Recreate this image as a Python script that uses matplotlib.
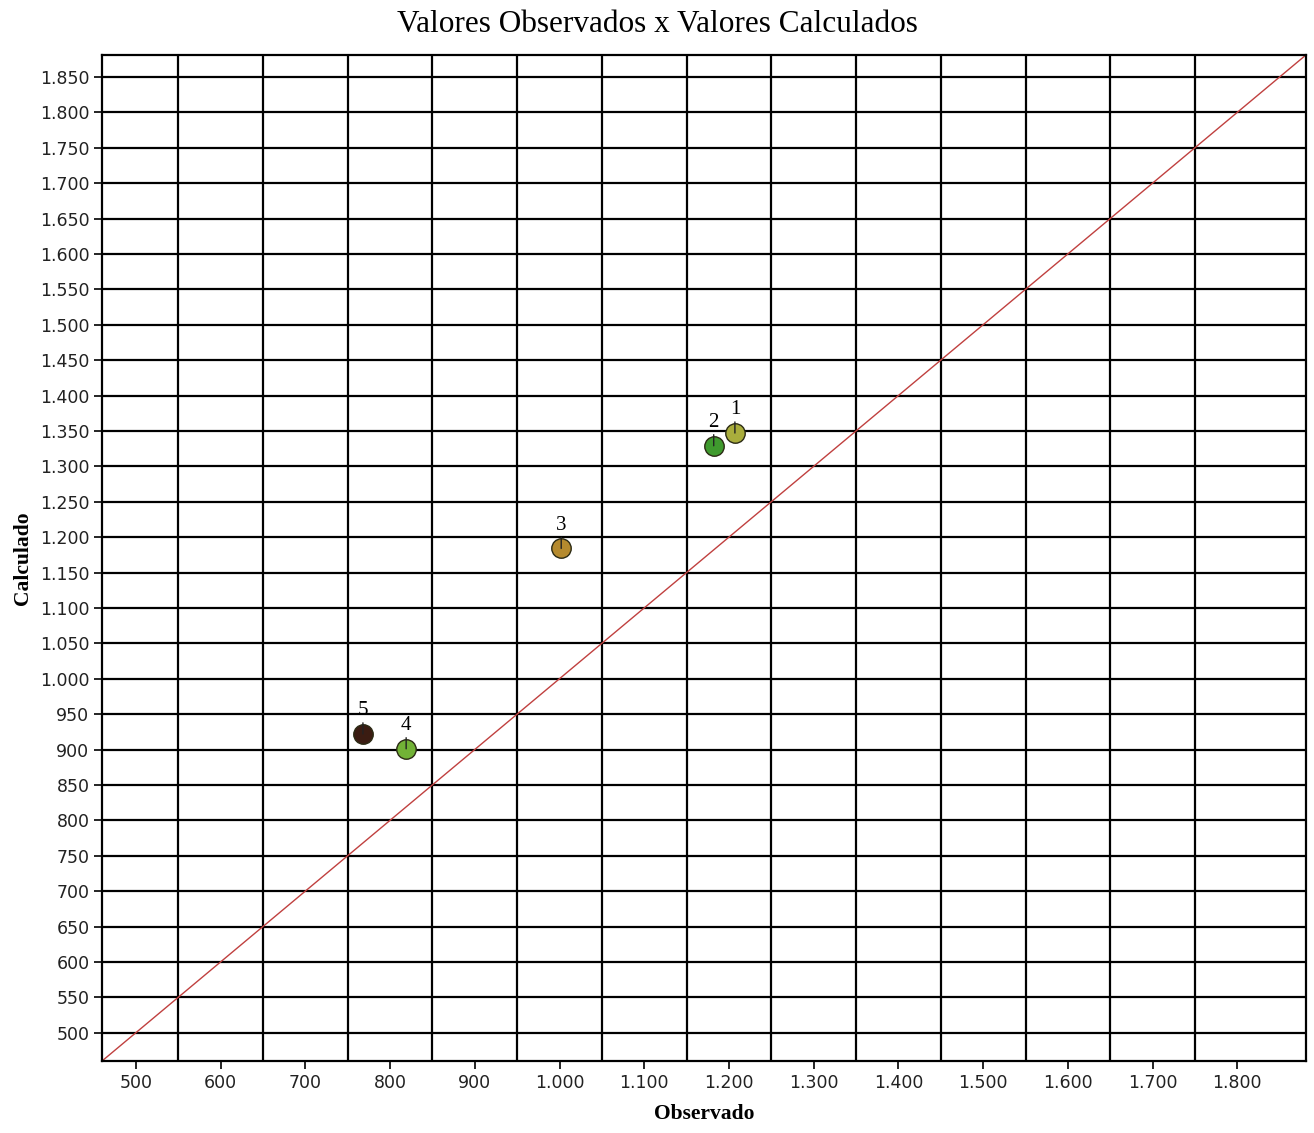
import matplotlib.pyplot as plt
import numpy as np
from matplotlib.ticker import FuncFormatter

# pontos observados x calculados
labels = ["1", "2", "3", "4", "5"]
observado = [1207, 1182, 1002, 819, 768]
calculado = [1347, 1329, 1184, 901, 922]
cores = ["#a9ad3c", "#3f9a2e", "#b58a2e", "#72b236", "#3b1c12"]

x_ticks = list(range(500, 1801, 100))
y_ticks = list(range(500, 1851, 50))
x_grid = list(range(550, 1751, 100))
lim = (460, 1881)


def milhar(v, pos):
    # separador de milhar com ponto
    return f"{int(v):,}".replace(",", ".")


fig = plt.figure(figsize=(13.14, 11.33), dpi=100)
ax = fig.add_axes([0.0776, 0.0635, 0.9163, 0.888])

ax.set_xlim(lim)
ax.set_ylim(lim)

for gx in x_grid:
    ax.axvline(gx, color="black", lw=1.6, zorder=1)
for gy in y_ticks:
    ax.axhline(gy, color="black", lw=1.6, zorder=1)

ax.plot(lim, lim, color="#c0403f", lw=1.0, zorder=2)

for lab, xo, yc, c in zip(labels, observado, calculado, cores):
    ax.plot(xo, yc, "o", ms=14, color=c, mec="#2b2a14", mew=1.0, zorder=4)
    ax.annotate(
        lab, (xo, yc), xytext=(0, 10), textcoords="offset points",
        ha="center", va="bottom", fontsize=15, family="Liberation Serif",
        arrowprops=dict(arrowstyle="-", color="#222222", lw=1.0, shrinkA=0, shrinkB=0),
        zorder=5,
    )

ax.set_xticks(x_ticks)
ax.set_yticks(y_ticks)
ax.xaxis.set_major_formatter(FuncFormatter(milhar))
ax.yaxis.set_major_formatter(FuncFormatter(milhar))
ax.tick_params(direction="out", length=6, width=1.2, labelsize=12.5, pad=3)
for t in ax.get_xticklabels() + ax.get_yticklabels():
    t.set_family("DejaVu Sans")
    t.set_color("#222222")

for s in ax.spines.values():
    s.set_linewidth(1.6)

fig.text(0.5, 0.978, "Valores Observados x Valores Calculados", family="Liberation Serif",
         fontsize=22.5, ha="center", va="center")
ax.set_xlabel("Observado", family="Liberation Serif", fontweight="bold", fontsize=15.5, labelpad=9)
ax.set_ylabel("Calculado", family="Liberation Serif", fontweight="bold", fontsize=15.5, labelpad=5)

plt.savefig("out.png", dpi=100)
